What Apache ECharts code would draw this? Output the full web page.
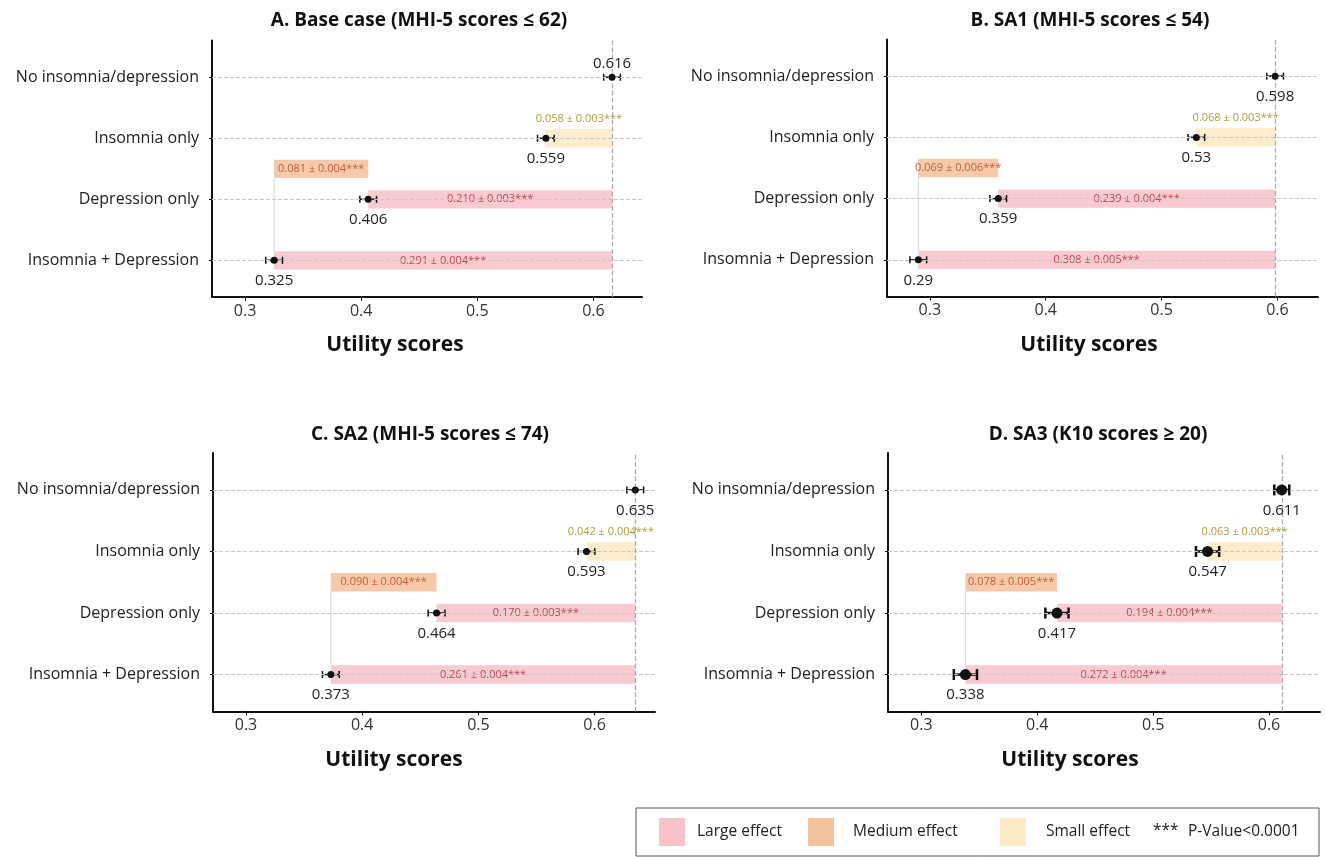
<!DOCTYPE html>
<html>
<head>
<meta charset="utf-8">
<title>Utility scores</title>
<script src="https://cdn.jsdelivr.net/npm/echarts@6/dist/echarts.min.js"></script>
<style>
  html, body { margin: 0; padding: 0; background: #fff; }
  #main { width: 1325px; height: 857px; }
</style>
</head>
<body>
<div id="main"></div>
<script>
const FONT = '"Open Sans", sans-serif';

// rows bottom -> top
const categories = ['Insomnia + Depression', 'Depression only', 'Insomnia only', 'No insomnia/depression'];
const xTicks = [0.3, 0.4, 0.5, 0.6];
const effectSizes = ['Large', 'Large', 'Small'];

const meansA = [0.325, 0.406, 0.559, 0.616];
const ciA = [0.0072, 0.0072, 0.0072, 0.0072];
const effectA = ['0.291 ± 0.004', '0.210 ± 0.003', '0.058 ± 0.003'];
const mediumA = '0.081 ± 0.004';

const meansB = [0.29, 0.359, 0.53, 0.598];
const ciB = [0.0072, 0.0072, 0.0072, 0.0072];
const effectB = ['0.308 ± 0.005', '0.239 ± 0.004', '0.068 ± 0.003'];
const mediumB = '0.069 ± 0.006';

const meansC = [0.373, 0.464, 0.593, 0.635];
const ciC = [0.0072, 0.0072, 0.0072, 0.0072];
const effectC = ['0.261 ± 0.004', '0.170 ± 0.003', '0.042 ± 0.004'];
const mediumC = '0.090 ± 0.004';

const meansD = [0.338, 0.417, 0.547, 0.611];
const ciD = [0.010, 0.010, 0.010, 0.0065];
const effectD = ['0.272 ± 0.004', '0.194 ± 0.004', '0.063 ± 0.003'];
const mediumD = '0.078 ± 0.005';

const fillColor = { Large: '#f8c3c8', Medium: '#f5c29e', Small: '#fdebc6' };
const textColor = { Large: '#b84653', Medium: '#c0603a', Small: '#b19c3e' };

const panels = [
  { title: 'A. Base case (MHI-5 scores ≤ 62)', means: meansA, ci: ciA, effects: effectA, medium: mediumA,
    grid: { left: 212, top: 40.6, width: 430, height: 256.4 }, xMin: 0.2715, xMax: 0.6418,
    titlePos: [419, 21], namePos: [395, 345], labelUp: [false, false, false, true], dot: 7, errW: 1.5, cap: 7 },
  { title: 'B. SA1 (MHI-5 scores ≤ 54)', means: meansB, ci: ciB, effects: effectB, medium: mediumB,
    grid: { left: 887, top: 39.4, width: 431, height: 257.2 }, xMin: 0.263, xMax: 0.635,
    titlePos: [1090, 21], namePos: [1089, 345], labelUp: [false, false, false, false], dot: 7, errW: 1.5, cap: 7 },
  { title: 'C. SA2 (MHI-5 scores ≤ 74)', means: meansC, ci: ciC, effects: effectC, medium: mediumC,
    grid: { left: 213, top: 453, width: 442, height: 258.5 }, xMin: 0.2716, xMax: 0.652,
    titlePos: [430, 435], namePos: [394, 760], labelUp: [false, false, false, false], dot: 7, errW: 1.5, cap: 7 },
  { title: 'D. SA3 (K10 scores ≥ 20)', means: meansD, ci: ciD, effects: effectD, medium: mediumD,
    grid: { left: 888, top: 453, width: 432, height: 258.5 }, xMin: 0.2712, xMax: 0.644,
    titlePos: [1098, 435], namePos: [1070, 760], labelUp: [false, false, false, false], dot: 11, errW: 2.5, cap: 11 }
];

function txt(text, x, y, font, fill, align) {
  return {
    type: 'text',
    style: { text: text, x: x, y: y, font: font, fill: fill,
      align: align || 'center', textAlign: align || 'center',
      verticalAlign: 'middle', textVerticalAlign: 'middle' }
  };
}

const grids = [], xAxes = [], yAxes = [], series = [], graphics = [];

panels.forEach(function (pn, k) {
  grids.push(pn.grid);
  xAxes.push({
    gridIndex: k, type: 'value', min: pn.xMin, max: pn.xMax,
    axisLine: { show: true, onZero: false, lineStyle: { color: '#111', width: 2 } },
    axisTick: { show: true, customValues: xTicks, length: 4, lineStyle: { color: '#111' } },
    axisLabel: { customValues: xTicks, formatter: function (v) { return String(+v.toFixed(1)); },
      fontSize: 16, color: '#333', fontFamily: FONT, margin: 6 },
    splitLine: { show: false }
  });
  yAxes.push({
    gridIndex: k, type: 'value', min: -0.6, max: 3.6,
    axisLine: { show: true, onZero: false, lineStyle: { color: '#111', width: 2 } },
    axisTick: { show: true, customValues: [0, 1, 2, 3], length: 3, lineStyle: { color: '#111' } },
    axisLabel: { customValues: [0, 1, 2, 3], formatter: function (v) { return categories[Math.round(v)]; },
      fontSize: 16, color: '#222', fontFamily: FONT, margin: 13 },
    splitLine: { show: false }
  });

  const m = pn.means;
  const ref = m[3];

  // dashed guide lines
  series.push({
    type: 'scatter', xAxisIndex: k, yAxisIndex: k, data: [], z: 1, silent: true,
    markLine: {
      silent: true, precision: 4, symbol: ['none', 'none'], label: { show: false },
      lineStyle: { type: 'dashed', color: '#c9c9c9', width: 1 },
      data: [{ yAxis: 0 }, { yAxis: 1 }, { yAxis: 2 }, { yAxis: 3 },
        { xAxis: ref, lineStyle: { type: 'dashed', color: '#a9a9a9', width: 1.2 } }]
    }
  });

  // effect bars
  series.push({
    type: 'custom', xAxisIndex: k, yAxisIndex: k, z: 2, silent: true,
    data: [[m[0], ref, 0], [m[1], ref, 1], [m[2], ref, 2], [m[0], m[1], 1.5]],
    renderItem: function (params, api) {
      const i = params.dataIndex;
      const a = api.coord([api.value(0), api.value(2)]);
      const b = api.coord([api.value(1), api.value(2)]);
      const h = api.size([0, 0.3])[1];
      const size = i < 3 ? effectSizes[i] : 'Medium';
      const label = (i < 3 ? pn.effects[i] : pn.medium) + '***';
      const children = [{
        type: 'rect', shape: { x: a[0], y: a[1] - h / 2, width: b[0] - a[0], height: h },
        style: { fill: fillColor[size], opacity: 0.88 }
      }];
      const ty = size === 'Small' ? a[1] - h / 2 - 10 : a[1];
      children.push(txt(label, (a[0] + b[0]) / 2, ty, '11px ' + FONT, textColor[size]));
      if (size === 'Medium') {
        const c = api.coord([api.value(0), 0]);
        children.push({ type: 'line', shape: { x1: a[0], y1: a[1] + h / 2, x2: a[0], y2: c[1] - h / 2 },
          style: { stroke: '#d6d6d6', lineWidth: 1 } });
      }
      return { type: 'group', children: children };
    }
  });

  // error bars
  series.push({
    type: 'custom', xAxisIndex: k, yAxisIndex: k, z: 4, silent: true,
    data: m.map(function (v, i) { return [v - pn.ci[i], v + pn.ci[i], i]; }),
    renderItem: function (params, api) {
      const y = api.value(2);
      const l = api.coord([api.value(0), y]);
      const r = api.coord([api.value(1), y]);
      const c = pn.cap / 2;
      const st = { stroke: '#111', lineWidth: pn.errW };
      return { type: 'group', children: [
        { type: 'line', shape: { x1: l[0], y1: l[1], x2: r[0], y2: r[1] }, style: st },
        { type: 'line', shape: { x1: l[0], y1: l[1] - c, x2: l[0], y2: l[1] + c }, style: st },
        { type: 'line', shape: { x1: r[0], y1: r[1] - c, x2: r[0], y2: r[1] + c }, style: st }
      ] };
    }
  });

  // means
  series.push({
    type: 'scatter', xAxisIndex: k, yAxisIndex: k, z: 5, silent: true,
    symbolSize: pn.dot, itemStyle: { color: '#111', opacity: 1 },
    label: { show: true, position: 'bottom', distance: 12 - pn.dot / 2 + 1,
      formatter: function (p) { return String(p.value[0]); },
      fontSize: 15, color: '#222', fontFamily: FONT },
    data: m.map(function (v, i) {
      const item = { value: [v, i] };
      if (pn.labelUp[i]) item.label = { position: 'top', distance: 2 };
      return item;
    })
  });

  graphics.push(txt(pn.title, pn.titlePos[0], pn.titlePos[1], 'bold 19px ' + FONT, '#111'));
  graphics.push(txt('Utility scores', pn.namePos[0], pn.namePos[1], 'bold 21px ' + FONT, '#111'));
});

// legend box
graphics.push({ type: 'rect', shape: { x: 636, y: 808, width: 683, height: 48 },
  style: { fill: '#fff', stroke: '#555', lineWidth: 1 } });
const legendItems = [['Large', 'Large effect', 659, 697], ['Medium', 'Medium effect', 808, 853], ['Small', 'Small effect', 1000, 1046]];
legendItems.forEach(function (it) {
  graphics.push({ type: 'rect', shape: { x: it[2], y: 818, width: 26, height: 28 }, style: { fill: fillColor[it[0]] } });
  graphics.push(txt(it[1], it[3], 832, '15.5px ' + FONT, '#222', 'left'));
});
graphics.push(txt('***', 1153, 831, '15.5px ' + FONT, '#222', 'left'));
graphics.push(txt('P-Value<0.0001', 1188, 832, '15.5px ' + FONT, '#222', 'left'));

const chart = echarts.init(document.getElementById('main'));
chart.setOption({
  animation: false,
  backgroundColor: '#fff',
  grid: grids,
  xAxis: xAxes,
  yAxis: yAxes,
  series: series,
  graphic: graphics
});
</script>
</body>
</html>
